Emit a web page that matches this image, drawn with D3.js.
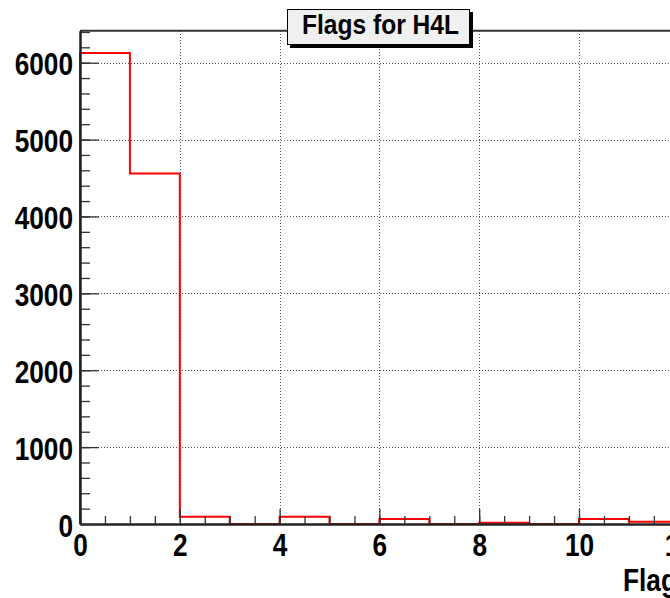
<!DOCTYPE html>
<html><head><meta charset="utf-8">
<script src="https://cdn.jsdelivr.net/npm/d3@7"></script>
<style>body{margin:0;background:#fff;overflow:hidden}</style></head>
<body>
<script>
// ---- data ----
const binLow = [0, 1, 2, 3, 4, 5, 6, 7, 8, 9, 10, 11];
const counts = [6125, 4560, 95, 0, 95, 0, 65, 0, 17, 0, 65, 30];
const binWidth = 1;
const xTickValues = [0, 2, 4, 6, 8, 10, 12, 14, 16];
const yTickValues = [0, 1000, 2000, 3000, 4000, 5000, 6000];
const titleText = "Flags for H4L";
const xTitleText = "Flags";

// ---- layout ----
const W = 670, H = 598;
const x0 = 80, pxPerUnit = 49.9, xMax = 16;
const yBase = 524, yTop = 30.7, yMax = 6416;

const svg = d3.select("body").append("svg").attr("width", W).attr("height", H);

const x = d3.scaleLinear().domain([0, xMax]).range([x0, x0 + xMax * pxPerUnit]);
const y = d3.scaleLinear().domain([0, yMax]).range([yBase, yTop]);

const font = "'Liberation Sans', Arial, Helvetica, sans-serif";

// grid
const grid = svg.append("g").attr("stroke", "#555").attr("stroke-width", 1).attr("stroke-dasharray", "1,2");
grid.selectAll("line.v").data(xTickValues.filter(d => d > 0)).join("line")
  .attr("x1", d => Math.round(x(d)) + 0.5).attr("x2", d => Math.round(x(d)) + 0.5)
  .attr("y1", yBase).attr("y2", yTop);
grid.selectAll("line.h").data(yTickValues.filter(d => d > 0)).join("line")
  .attr("x1", x0).attr("x2", W + 10)
  .attr("y1", d => Math.round(y(d)) + 0.5).attr("y2", d => Math.round(y(d)) + 0.5);

// frame top
svg.append("line").attr("x1", x0).attr("x2", W + 10).attr("y1", yTop).attr("y2", yTop)
  .attr("stroke", "#333").attr("stroke-width", 2);

// histogram outline
const pts = [[0, 0]];
binLow.forEach((b, i) => { pts.push([b, counts[i]]); pts.push([b + binWidth, counts[i]]); });
pts.push([binLow[binLow.length - 1] + binWidth, 0]);
svg.append("path")
  .attr("d", d3.line().x(d => x(d[0])).y(d => y(d[1]))(pts))
  .attr("fill", "none").attr("stroke", "#ff0000").attr("stroke-width", 2);

// x axis
const xAxisG = svg.append("g").attr("transform", `translate(0,${yBase})`);
xAxisG.call(d3.axisBottom(x).tickValues(d3.range(0, xMax + 0.01, 0.5)).tickSizeInner(-8).tickSizeOuter(0).tickFormat(""));
xAxisG.selectAll(".tick line").attr("stroke", "#333").attr("stroke-width", 1.3);
const xMajor = svg.append("g").attr("transform", `translate(0,${yBase})`);
xMajor.call(d3.axisBottom(x).tickValues(xTickValues).tickSizeInner(-15).tickSizeOuter(0).tickPadding(0).tickFormat(d3.format("d")));
xMajor.selectAll(".tick line").attr("stroke", "#333").attr("stroke-width", 1.3);
xMajor.selectAll(".tick text")
  .attr("y", 0).attr("dy", null)
  .attr("transform", "translate(0,32) scale(0.82,1)")
  .attr("font-family", font).attr("font-weight", "bold").attr("font-size", 32).attr("fill", "#000");
svg.selectAll(".domain").attr("stroke", "#222").attr("stroke-width", 2);

// y axis
const yMinor = svg.append("g").attr("transform", `translate(${x0},0)`);
yMinor.call(d3.axisLeft(y).tickValues(d3.range(0, yMax, 200)).tickSizeInner(-10).tickSizeOuter(0).tickFormat(""));
yMinor.selectAll(".tick line").attr("stroke", "#333").attr("stroke-width", 1.3);
const yMajor = svg.append("g").attr("transform", `translate(${x0},0)`);
yMajor.call(d3.axisLeft(y).tickValues(yTickValues).tickSizeInner(-19).tickSizeOuter(0).tickPadding(0).tickFormat(d3.format("d")));
yMajor.selectAll(".tick line").attr("stroke", "#333").attr("stroke-width", 1.3);
yMajor.selectAll(".tick text")
  .attr("x", 0).attr("dy", null).attr("text-anchor", "end")
  .attr("transform", "translate(-7,12) scale(0.82,1)")
  .attr("font-family", font).attr("font-weight", "bold").attr("font-size", 32).attr("fill", "#000");
svg.selectAll(".domain").attr("stroke", "#222").attr("stroke-width", 2);

// x axis title
svg.append("text").attr("transform", "translate(623,591) scale(0.82,1)")
  .attr("font-family", font).attr("font-weight", "bold").attr("font-size", 32).text(xTitleText);

// title box
svg.append("rect").attr("x", 290).attr("y", 12).attr("width", 183).attr("height", 36).attr("fill", "#000");
svg.append("rect").attr("x", 287.5).attr("y", 9.5).attr("width", 182).attr("height", 35)
  .attr("fill", "#f0f0f0").attr("stroke", "#000").attr("stroke-width", 1);
svg.append("text").attr("transform", "translate(380.5,34) scale(0.91,1)")
  .attr("text-anchor", "middle").attr("font-family", font).attr("font-weight", "bold").attr("font-size", 27)
  .text(titleText);
</script>
</body></html>
